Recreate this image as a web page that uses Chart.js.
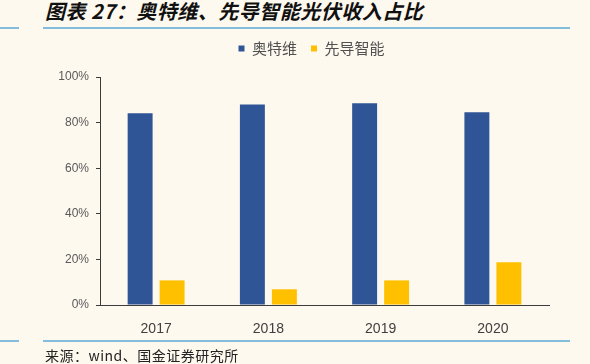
<!DOCTYPE html>
<html lang="zh-CN">
<head>
  <meta charset="UTF-8">
  <title>奥特维、先导智能光伏收入占比</title>
  <script src="https://cdn.jsdelivr.net/npm/chart.js"></script>
  <style>
    html, body { margin: 0; padding: 0; background: #fef9ef; }
    #page { position: relative; width: 590px; height: 364px; overflow: hidden; }
    .rule { position: absolute; height: 2px; background: #84bcdc; }
    #title {
      position: absolute; left: 45px; top: 0px; line-height: 22px;
      font-family: "Noto Sans CJK SC", sans-serif; font-size: 20px; letter-spacing: 0.5px;
      font-weight: bold; font-style: italic; color: #111; white-space: nowrap;
    }
    #source {
      position: absolute; left: 45px; top: 347px; line-height: 16px;
      font-family: "Noto Sans CJK SC", sans-serif; font-size: 14px; letter-spacing: 0.5px;
      color: #222; white-space: nowrap;
    }
    #box { position: absolute; left: 0; top: 0; width: 590px; height: 364px; }
  </style>
</head>
<body>
<div id="page">
  <div id="title">图表 27：奥特维、先导智能光伏收入占比</div>
  <div class="rule" style="left:0; width:19px; top:27px;"></div>
  <div class="rule" style="left:43px; width:527px; top:27px;"></div>
  <div id="box"><canvas id="chart"></canvas></div>
  <div class="rule" style="left:0; width:19px; top:340px;"></div>
  <div class="rule" style="left:43px; width:527px; top:340px;"></div>
  <div id="source">来源：wind、国金证券研究所</div>
</div>

<script>
  // 数据
  const years = ['2017', '2018', '2019', '2020'];
  const aotewei = [84.1, 87.9, 88.5, 84.5];   // 奥特维 光伏收入占比 (%)
  const xiandao = [10.8, 6.9, 10.8, 18.7];    // 先导智能 光伏收入占比 (%)
  const yTicks = [0, 20, 40, 60, 80, 100];

  const axisColor = '#3c3c3c';

  // 图例下方留白，并整体右移一点（原图图例不在绘图区正中）
  const legendTweak = {
    id: 'legendTweak',
    beforeInit(chart) {
      const fit = chart.legend.fit;
      chart.legend.fit = function () {
        fit.call(this);
        this.height += 11;
      };
    },
    afterLayout(chart) {
      chart.legend.left += 37;
      chart.legend.right += 37;
    }
  };

  new Chart(document.getElementById('chart'), {
    type: 'bar',
    data: {
      labels: years,
      datasets: [
        { label: '奥特维', data: aotewei, backgroundColor: '#2f5597' },
        { label: '先导智能', data: xiandao, backgroundColor: '#ffc000' }
      ]
    },
    options: {
      responsive: true,
      maintainAspectRatio: false,
      animation: false,
      categoryPercentage: 0.57,
      barPercentage: 0.78,
      layout: { padding: { top: 27, left: 0, right: 41, bottom: 29 } },
      plugins: {
        tooltip: { enabled: false },
        legend: {
          position: 'top',
          labels: {
            boxWidth: 6,
            boxHeight: 6,
            padding: 14,
            color: '#505050',
            font: { family: '"Noto Sans CJK SC", sans-serif', size: 15 }
          }
        }
      },
      scales: {
        x: {
          grid: { display: false },
          border: { display: true, color: axisColor, width: 1 },
          ticks: {
            color: '#404040', padding: 8,
            font: { family: '"Liberation Sans", Arial, sans-serif', size: 14 }
          },
          afterFit: s => { s.height = 30; }
        },
        y: {
          min: 0, max: 100,
          afterBuildTicks: s => { s.ticks = yTicks.map(v => ({ value: v })); },
          grid: { display: true, drawOnChartArea: false, drawTicks: true, tickLength: 4, color: axisColor },
          border: { display: true, color: axisColor, width: 1 },
          ticks: {
            color: '#595959', padding: 7,
            font: { family: '"Liberation Sans", Arial, sans-serif', size: 12 },
            callback: v => v + '%'
          },
          afterFit: s => { s.width = 100; }
        }
      }
    },
    plugins: [legendTweak]
  });
</script>
</body>
</html>
